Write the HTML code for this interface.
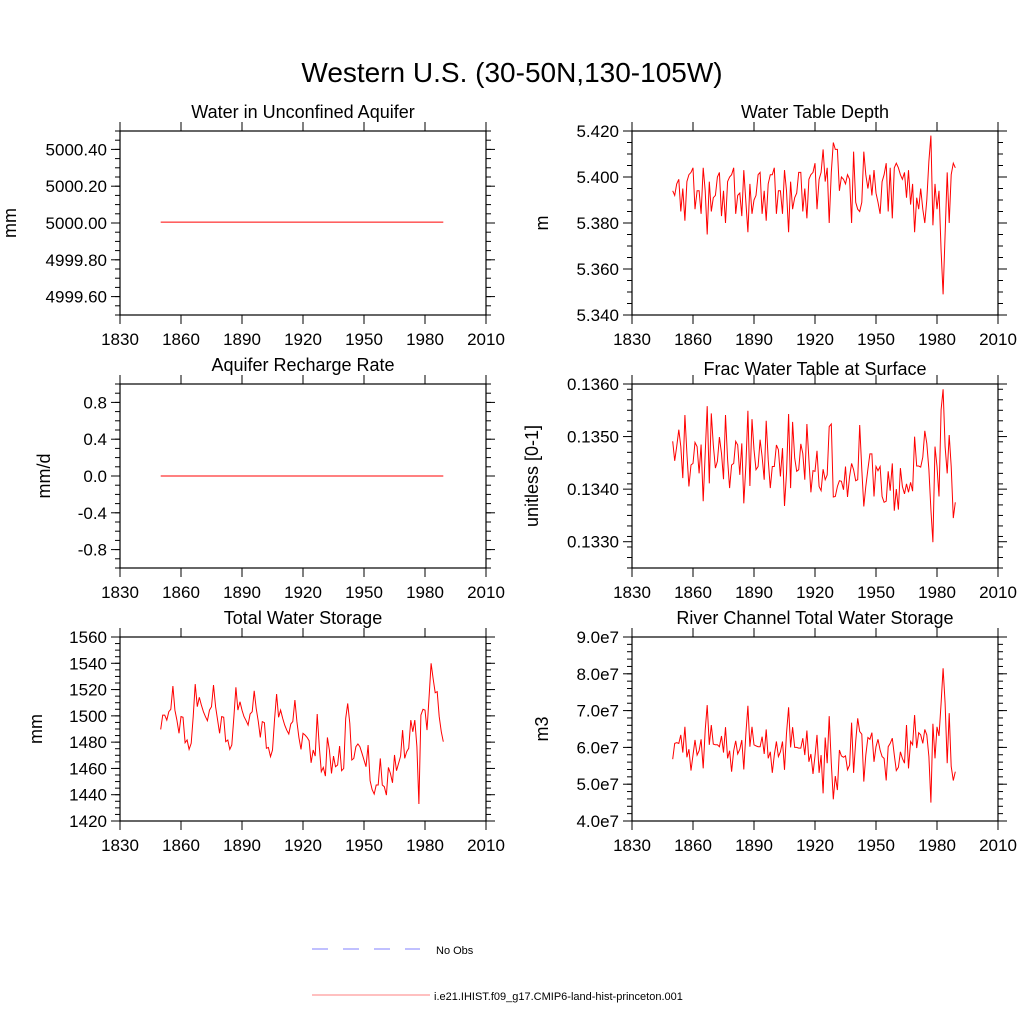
<!DOCTYPE html>
<html><head><meta charset="utf-8"><style>
html,body{margin:0;padding:0;background:#fff;}
svg text{font-family:"Liberation Sans",sans-serif;fill:#000;}
</style></head><body>
<svg id="fig" width="1024" height="1024" viewBox="0 0 1024 1024" xmlns="http://www.w3.org/2000/svg">
<text x="512" y="82" font-size="28" text-anchor="middle">Western U.S. (30-50N,130-105W)</text>
<g id="panels"></g>
<g>
<line x1="312" y1="949" x2="420" y2="949" stroke="#8080ff" stroke-width="1" stroke-dasharray="16,15"/>
<text x="436" y="954" font-size="11">No Obs</text>
<line x1="312" y1="995" x2="430" y2="995" stroke="#ff8080" stroke-width="1"/>
<text x="434" y="1000" font-size="11">i.e21.IHIST.f09_g17.CMIP6-land-hist-princeton.001</text>
</g>
</svg>
<script>
const startYear = 1850;
const aquiferWater = new Array(140).fill(5000.005);
const rechargeRate = new Array(140).fill(0.0);
const waterTableDepth = [5.394,5.392,5.397,5.399,5.385,5.395,5.381,5.398,5.401,5.402,5.404,5.386,5.394,5.394,5.384,5.404,5.394,5.375,5.398,5.385,5.391,5.392,5.400,5.402,5.383,5.394,5.380,5.398,5.400,5.401,5.404,5.384,5.392,5.393,5.383,5.403,5.389,5.376,5.397,5.384,5.390,5.392,5.401,5.402,5.384,5.394,5.381,5.397,5.401,5.401,5.404,5.384,5.394,5.394,5.384,5.403,5.394,5.376,5.398,5.386,5.391,5.393,5.402,5.402,5.385,5.395,5.382,5.399,5.401,5.402,5.406,5.386,5.399,5.402,5.412,5.398,5.404,5.380,5.402,5.415,5.412,5.412,5.394,5.400,5.399,5.397,5.401,5.399,5.380,5.411,5.389,5.386,5.385,5.389,5.411,5.401,5.395,5.401,5.392,5.403,5.393,5.389,5.384,5.398,5.401,5.406,5.385,5.404,5.382,5.404,5.406,5.404,5.401,5.399,5.402,5.391,5.403,5.388,5.397,5.376,5.391,5.386,5.395,5.386,5.380,5.390,5.407,5.418,5.379,5.397,5.386,5.394,5.368,5.349,5.375,5.402,5.380,5.401,5.406,5.404];
const fracWaterTable = [0.13491,0.13454,0.13481,0.13513,0.13481,0.13421,0.13541,0.13468,0.13405,0.13446,0.13449,0.13489,0.13481,0.13430,0.13485,0.13377,0.13468,0.13558,0.13411,0.13544,0.13484,0.13440,0.13453,0.13499,0.13468,0.13419,0.13541,0.13456,0.13402,0.13446,0.13449,0.13491,0.13484,0.13427,0.13487,0.13373,0.13446,0.13549,0.13406,0.13533,0.13475,0.13437,0.13443,0.13494,0.13462,0.13418,0.13530,0.13456,0.13402,0.13443,0.13443,0.13484,0.13475,0.13424,0.13478,0.13368,0.13430,0.13543,0.13402,0.13528,0.13459,0.13434,0.13437,0.13486,0.13468,0.13418,0.13524,0.13456,0.13394,0.13435,0.13434,0.13473,0.13405,0.13397,0.13438,0.13418,0.13427,0.13519,0.13524,0.13385,0.13386,0.13405,0.13416,0.13415,0.13399,0.13443,0.13385,0.13424,0.13449,0.13437,0.13416,0.13418,0.13522,0.13437,0.13367,0.13405,0.13438,0.13467,0.13467,0.13386,0.13443,0.13435,0.13443,0.13386,0.13375,0.13377,0.13434,0.13397,0.13449,0.13359,0.13400,0.13361,0.13440,0.13405,0.13391,0.13410,0.13394,0.13413,0.13396,0.13500,0.13444,0.13444,0.13442,0.13461,0.13511,0.13487,0.13437,0.13361,0.13299,0.13481,0.13443,0.13386,0.13551,0.13590,0.13481,0.13430,0.13503,0.13443,0.13345,0.13375];
const totalWaterStorage = [1489.7,1500.6,1500.6,1496.8,1503.2,1505.0,1522.7,1504.4,1496.8,1486.7,1499.4,1498.9,1479.6,1481.6,1474.5,1479.1,1499.4,1524.2,1507.0,1514.1,1508.3,1503.2,1499.4,1496.3,1504.4,1507.0,1523.5,1507.0,1496.8,1486.7,1499.4,1498.9,1480.3,1481.6,1474.5,1477.8,1499.4,1521.7,1504.4,1510.8,1504.4,1499.4,1496.3,1493.0,1501.4,1503.2,1519.1,1505.7,1495.6,1483.6,1495.6,1494.8,1475.3,1476.0,1468.9,1474.0,1496.8,1516.6,1498.9,1504.4,1498.1,1493.0,1489.2,1486.2,1493.8,1495.6,1512.1,1495.6,1483.6,1474.5,1486.7,1485.4,1483.6,1481.1,1464.3,1474.0,1469.4,1501.4,1476.5,1457.5,1460.8,1454.2,1483.6,1474.0,1456.2,1469.4,1461.3,1462.6,1477.0,1458.3,1460.0,1498.1,1509.5,1494.3,1466.4,1467.6,1476.5,1478.6,1476.5,1471.5,1466.4,1461.3,1477.8,1450.7,1444.0,1440.5,1447.4,1447.4,1467.6,1447.4,1446.1,1439.7,1460.8,1456.2,1449.1,1470.2,1458.3,1463.9,1469.4,1489.2,1467.6,1472.7,1475.3,1496.8,1487.9,1496.8,1476.5,1432.9,1500.6,1505.0,1504.4,1489.2,1514.6,1540.0,1528.5,1517.6,1518.4,1499.4,1487.9,1480.3];
const riverStorage = [5.68,6.11,6.13,6.11,6.34,5.86,6.56,5.73,5.95,5.37,5.79,6.20,5.79,5.91,6.22,5.43,6.47,7.15,6.07,6.61,6.09,6.07,6.07,6.02,6.31,5.86,6.55,5.70,5.91,5.34,5.91,6.18,5.82,5.95,6.20,5.40,6.38,7.13,6.02,6.56,6.07,6.04,6.02,6.02,6.29,5.82,6.49,5.70,5.88,5.31,5.79,6.16,5.75,5.88,6.16,5.39,6.38,7.09,6.00,6.55,6.00,6.00,5.98,5.98,6.25,5.79,6.46,5.61,5.82,5.28,5.77,6.34,5.31,5.79,4.75,6.27,5.57,6.85,5.57,4.59,5.22,4.84,5.93,5.77,5.73,5.77,5.39,5.52,6.67,5.31,6.16,6.79,6.43,6.36,5.07,5.79,6.27,6.22,6.40,5.61,6.02,6.22,5.93,5.75,5.70,5.10,6.02,6.11,6.25,5.79,5.37,5.46,5.88,5.70,5.57,6.61,5.43,6.16,6.07,6.88,5.98,6.40,6.34,6.11,6.49,6.34,5.75,4.50,6.64,5.70,6.56,6.31,7.20,8.15,7.20,5.57,6.93,5.48,5.10,5.34];
const xTickLabels = ["1830","1860","1890","1920","1950","1980","2010"];

const NS="http://www.w3.org/2000/svg";
const root=document.getElementById('panels');
function mk(tag,attrs,parent){const e=document.createElementNS(NS,tag);for(const k in attrs)e.setAttribute(k,attrs[k]);parent.appendChild(e);return e;}

function panel(cfg){
  const g=mk('g',{},root);
  
  
  const L=cfg.x,T=cfg.y,W=366,H=184;
  const xs=v=>L+(v-1830)/180*W;
  const ys=v=>T+H-(v-cfg.ymin)/(cfg.ymax-cfg.ymin)*H;
  // minor y ticks
  for(let v=cfg.ymin;v<=cfg.ymax+1e-9;v+=cfg.minor){
    const y=ys(v);
    mk('line',{x1:L-5,y1:y,x2:L,y2:y,stroke:'#000','stroke-width':1},g);
    mk('line',{x1:L+W,y1:y,x2:L+W+5,y2:y,stroke:'#000','stroke-width':1},g);
  }
  cfg.ticks.forEach((v,i)=>{
    const y=ys(v);
    mk('line',{x1:L-9,y1:y,x2:L,y2:y,stroke:'#000','stroke-width':1},g);
    mk('line',{x1:L+W,y1:y,x2:L+W+9,y2:y,stroke:'#000','stroke-width':1},g);
    const t=mk('text',{x:L-13,y:y+6,'font-size':17,'text-anchor':'end'},g);
    
    
    t.textContent=cfg.tickLabels[i];
  });
  xTickLabels.forEach(s=>{
    const x=xs(+s);
    mk('line',{x1:x,y1:T+H,x2:x,y2:T+H+9,stroke:'#000','stroke-width':1},g);
    mk('line',{x1:x,y1:T-9,x2:x,y2:T,stroke:'#000','stroke-width':1},g);
    const t=mk('text',{x:x,y:T+H+30,'font-size':17,'text-anchor':'middle'},g);
    
    
    t.textContent=s;
  });
  const box=mk('rect',{x:L,y:T,width:W,height:H,fill:'none',stroke:'#000','stroke-width':1.2},g);
  
  
  const pts=cfg.data.map((v,i)=>xs(startYear+i).toFixed(1)+','+ys(v).toFixed(1)).join(' ');
  const pl=mk('polyline',{points:pts,fill:'none',stroke:'#ff0000','stroke-width':1},g);
  
  
  const ti=mk('text',{x:L+W/2,y:cfg.titleY,'font-size':18,'text-anchor':'middle'},g);
  
  
  ti.textContent=cfg.title;
  const yt=mk('text',{x:0,y:0,'font-size':18,'text-anchor':'middle',transform:`translate(${cfg.ytx},${T+H/2}) rotate(-90)`},g);
  
  
  yt.textContent=cfg.ytitle;
}
panel({name:'panel-unconfined-aquifer',x:120,y:131,ymin:4999.5,ymax:5000.5,minor:0.05,ticks:[4999.6,4999.8,5000,5000.2,5000.4],tickLabels:['4999.60','4999.80','5000.00','5000.20','5000.40'],data:aquiferWater,title:'Water in Unconfined Aquifer',titleY:118,ytitle:'mm',ytx:16});
panel({name:'panel-water-table-depth',x:632,y:131,ymin:5.34,ymax:5.42,minor:0.005,ticks:[5.34,5.36,5.38,5.40,5.42],tickLabels:['5.340','5.360','5.380','5.400','5.420'],data:waterTableDepth,title:'Water Table Depth',titleY:118,ytitle:'m',ytx:548});
panel({name:'panel-recharge-rate',x:120,y:384,ymin:-1,ymax:1,minor:0.1,ticks:[-0.8,-0.4,0,0.4,0.8],tickLabels:['-0.8','-0.4','0.0','0.4','0.8'],data:rechargeRate,title:'Aquifer Recharge Rate',titleY:371,ytitle:'mm/d',ytx:50});
panel({name:'panel-frac-water-table',x:632,y:384,ymin:0.1325,ymax:0.1360,minor:0.0002,ticks:[0.1330,0.1340,0.1350,0.1360],tickLabels:['0.1330','0.1340','0.1350','0.1360'],data:fracWaterTable,title:'Frac Water Table at Surface',titleY:375,ytitle:'unitless [0-1]',ytx:538});
panel({name:'panel-total-water-storage',x:120,y:637,ymin:1420,ymax:1560,minor:5,ticks:[1420,1440,1460,1480,1500,1520,1540,1560],tickLabels:['1420','1440','1460','1480','1500','1520','1540','1560'],data:totalWaterStorage,title:'Total Water Storage',titleY:624,ytitle:'mm',ytx:42});
panel({name:'panel-river-storage',x:632,y:637,ymin:4,ymax:9,minor:0.2,ticks:[4,5,6,7,8,9],tickLabels:['4.0e7','5.0e7','6.0e7','7.0e7','8.0e7','9.0e7'],data:riverStorage,title:'River Channel Total Water Storage',titleY:624,ytitle:'m3',ytx:548});
</script>
</body></html>
